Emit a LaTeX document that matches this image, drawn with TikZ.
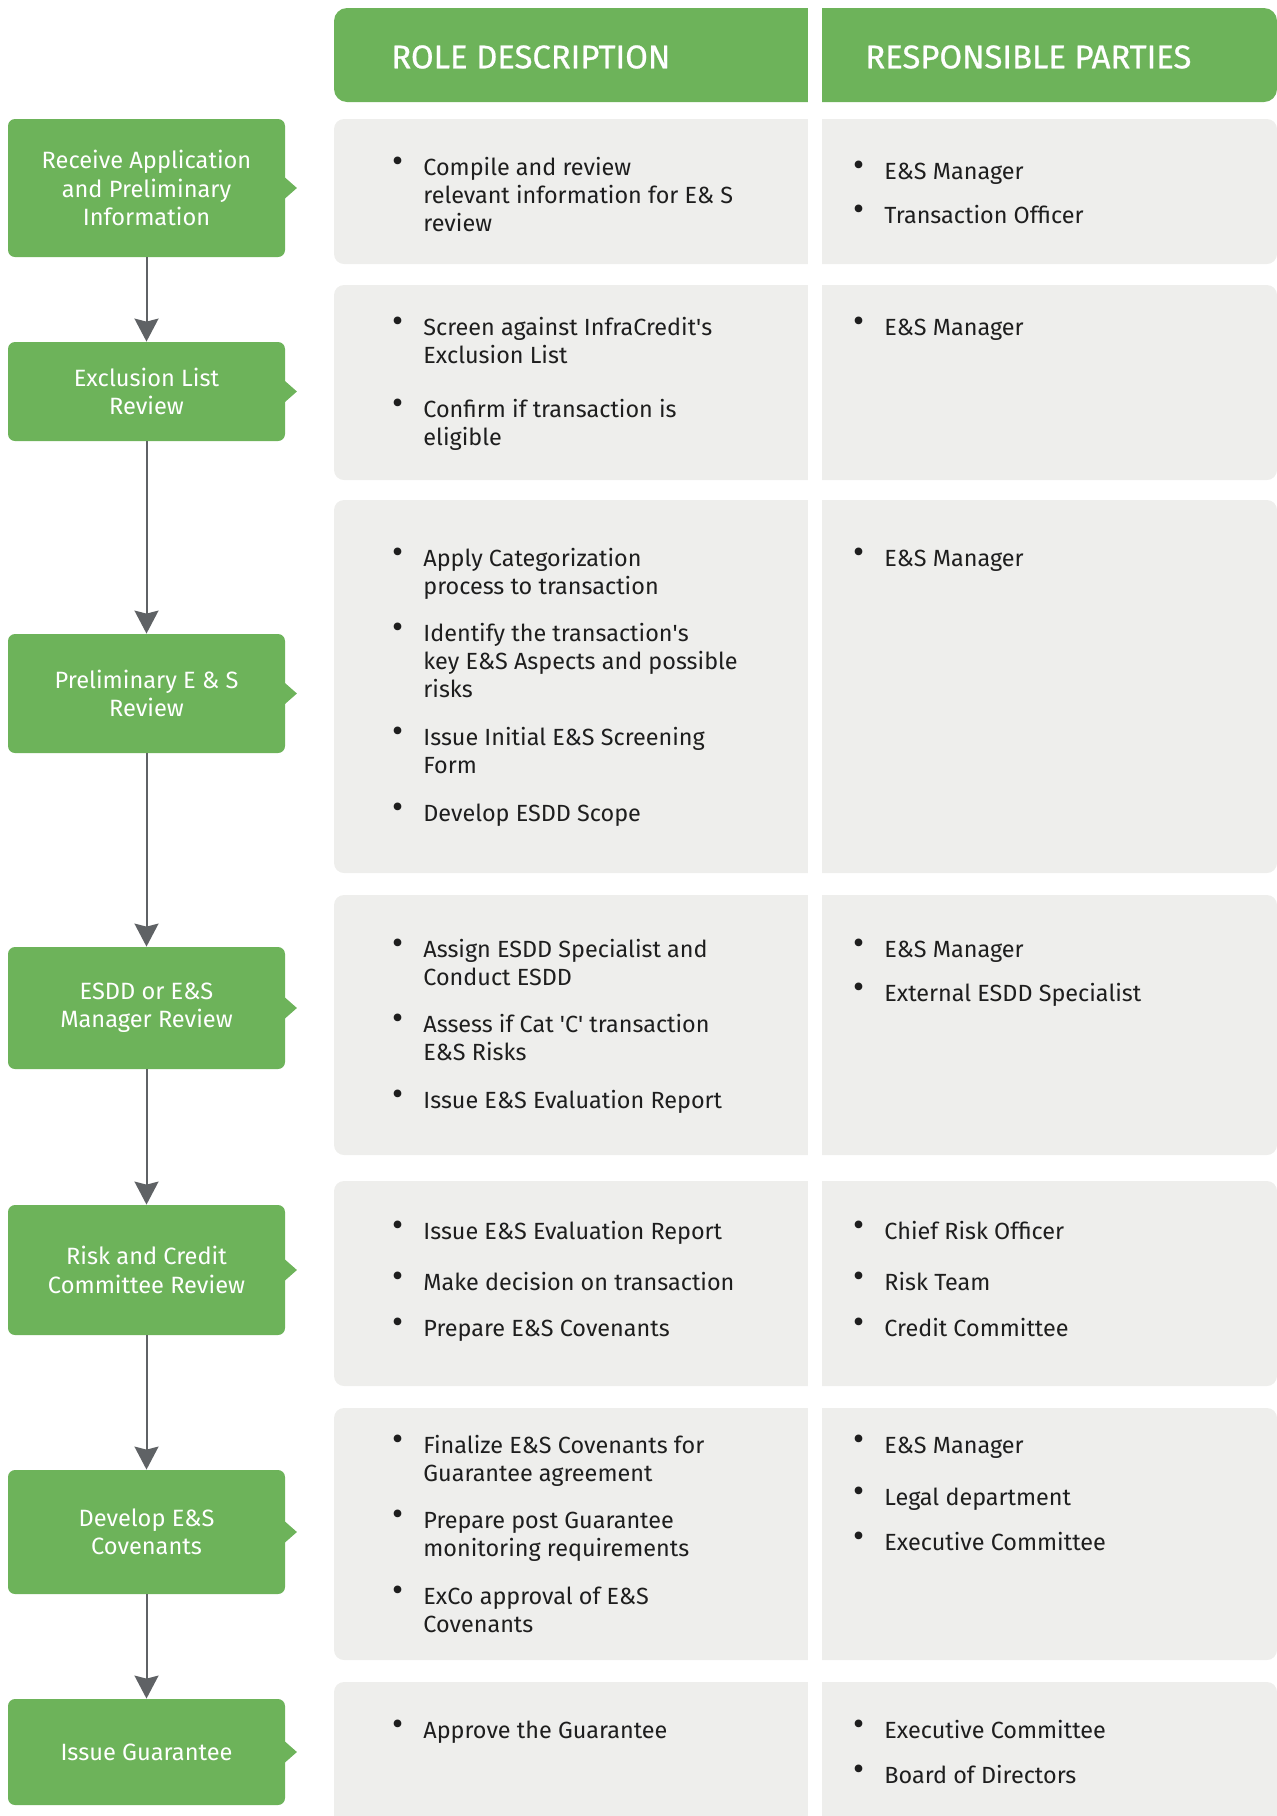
\documentclass[tikz,border=0pt]{standalone}
\usepackage{fontspec}
\setmainfont{Fira Sans}
\usetikzlibrary{arrows.meta}
\usepackage{xcolor}
\definecolor{color6db35a}{HTML}{6DB35A}
\definecolor{coloreeeeec}{HTML}{EEEEEC}
\definecolor{color5f6265}{HTML}{5F6265}
\definecolor{color1e1e1e}{HTML}{1E1E1E}

\newcommand{\dotitem}{\makebox[0pt][r]{\raisebox{1.4pt}{\fontsize{17}{17}\selectfont\textbullet}\hspace{10pt}}}

\tikzset{
  stagebox/.style={shape=rectangle, fill=color6db35a, rounded corners=3.5pt, minimum width=138.5pt, inner sep=0pt, align=center, text=white, font=\fontsize{11.8}{14.2}\selectfont},
  tablerow/.style={shape=rectangle, fill=coloreeeeec, rounded corners=5pt, minimum width=471.5pt, inner sep=0pt},
  headrow/.style={shape=rectangle, fill=color6db35a, rounded corners=6.5pt, minimum width=471.5pt, minimum height=47pt, inner sep=0pt},
  headtext/.style={anchor=west, inner sep=0pt, text=white, font=\fontsize{16.4}{19}\selectfont\addfontfeature{FakeBold=0.7}},
  itemtext/.style={anchor=base west, align=left, inner sep=0pt, text=color1e1e1e, font=\fontsize{11.7}{14.2}\selectfont},
  flow/.style={draw=color5f6265, line width=1pt, ->},
}

\begin{document}
\begin{tikzpicture}
    [x=0.5pt, y=-0.5pt,
     >={Stealth[length=11.5pt, width=12pt, inset=1.5pt]},  % arrow heads of the flow
    ]
\useasboundingbox (0,0) rectangle (1277,1816);
\clip (0,0) rectangle (1277,1816);

% table header and rows
\node[headrow] (head) at (805.5,55) {};
\node[tablerow, minimum height=72.5pt] (row1) at (805.5,191.5) {};
\node[tablerow, minimum height=97.5pt] (row2) at (805.5,382.5) {};
\node[tablerow, minimum height=186.5pt] (row3) at (805.5,686.5) {};
\node[tablerow, minimum height=130pt] (row4) at (805.5,1025) {};
\node[tablerow, minimum height=102.5pt] (row5) at (805.5,1283.5) {};
\node[tablerow, minimum height=126pt] (row6) at (805.5,1534) {};
\node[tablerow, minimum height=84pt] (row7) at (805.5,1766) {};
\fill[white] (808,0) rectangle (822,1816);

\node[headtext] (roletitle) at (391,57) {ROLE DESCRIPTION};
\node[headtext] (partytitle) at (865,57) {RESPONSIBLE PARTIES};

% process stages
\node[stagebox, minimum height=69pt] (receive) at (146.5,188) {Receive Application\\and Preliminary\\Information};
\node[stagebox, minimum height=49.5pt] (exclusion) at (146.5,391.5) {Exclusion List\\Review};
\node[stagebox, minimum height=59.5pt] (prelim) at (146.5,693.5) {Preliminary E \& S\\Review};
\node[stagebox, minimum height=61pt] (esdd) at (146.5,1008) {ESDD or E\&S\\Manager Review};
\node[stagebox, minimum height=65pt] (riskcredit) at (146.5,1270) {Risk and Credit\\Committee Review};
\node[stagebox, minimum height=62pt] (covenants) at (146.5,1532) {Develop E\&S\\Covenants};
\node[stagebox, minimum height=53pt] (guarantee) at (146.5,1752) {Issue Guarantee};

\foreach \s in {receive,exclusion,prelim,esdd,riskcredit,covenants,guarantee}
  \fill[color6db35a] ([xshift=-0.5pt,yshift=5.5pt]\s.east) -- ++(12.5,11) -- ++(-12.5,11) -- cycle;

\draw[flow] (receive) -- (exclusion);
\draw[flow] (exclusion) -- (prelim);
\draw[flow] (prelim) -- (esdd);
\draw[flow] (esdd) -- (riskcredit);
\draw[flow] (riskcredit) -- (covenants);
\draw[flow] (covenants) -- (guarantee);

% row 1 (multi-line items sit on their last baseline)
\node[itemtext] (r1a) at (423,231.8) {\dotitem Compile and review\\relevant information for E\& S\\review};
\node[itemtext] (r1p) at (884,179) {\dotitem E\&S Manager};
\node[itemtext] (r1q) at (884,223) {\dotitem Transaction Officer};

% row 2
\node[itemtext] (r2a) at (423,363.4) {\dotitem Screen against InfraCredit\textquotesingle s\\Exclusion List};
\node[itemtext] (r2b) at (423,445.4) {\dotitem Confirm if transaction is\\eligible};
\node[itemtext] (r2p) at (884,335) {\dotitem E\&S Manager};

% row 3
\node[itemtext] (r3a) at (423,594.4) {\dotitem Apply Categorization\\process to transaction};
\node[itemtext] (r3b) at (423,697.8) {\dotitem Identify the transaction\textquotesingle s\\key E\&S Aspects and possible\\risks};
\node[itemtext] (r3c) at (423,773.4) {\dotitem Issue Initial E\&S Screening\\Form};
\node[itemtext] (r3d) at (423,821) {\dotitem Develop ESDD Scope};
\node[itemtext] (r3p) at (884,566) {\dotitem E\&S Manager};

% row 4
\node[itemtext] (r4a) at (423,985.4) {\dotitem Assign ESDD Specialist and\\Conduct ESDD};
\node[itemtext] (r4b) at (423,1060.4) {\dotitem Assess if Cat \textquotesingle C\textquotesingle{} transaction\\E\&S Risks};
\node[itemtext] (r4c) at (423,1108) {\dotitem Issue E\&S Evaluation Report};
\node[itemtext] (r4p) at (884,957) {\dotitem E\&S Manager};
\node[itemtext] (r4q) at (884,1001) {\dotitem External ESDD Specialist};

% row 5
\node[itemtext] (r5a) at (423,1239) {\dotitem Issue E\&S Evaluation Report};
\node[itemtext] (r5b) at (423,1290) {\dotitem Make decision on transaction};
\node[itemtext] (r5c) at (423,1336) {\dotitem Prepare E\&S Covenants};
\node[itemtext] (r5p) at (884,1239) {\dotitem Chief Risk Officer};
\node[itemtext] (r5q) at (884,1290) {\dotitem Risk Team};
\node[itemtext] (r5r) at (884,1336) {\dotitem Credit Committee};

% row 6
\node[itemtext] (r6a) at (423,1481.4) {\dotitem Finalize E\&S Covenants for\\Guarantee agreement};
\node[itemtext] (r6b) at (423,1556.4) {\dotitem Prepare post Guarantee\\monitoring requirements};
\node[itemtext] (r6c) at (423,1632.4) {\dotitem ExCo approval of E\&S\\Covenants};
\node[itemtext] (r6p) at (884,1453) {\dotitem E\&S Manager};
\node[itemtext] (r6q) at (884,1505) {\dotitem Legal department};
\node[itemtext] (r6r) at (884,1550) {\dotitem Executive Committee};

% row 7
\node[itemtext] (r7a) at (423,1738) {\dotitem Approve the Guarantee};
\node[itemtext] (r7p) at (884,1738) {\dotitem Executive Committee};
\node[itemtext] (r7q) at (884,1783) {\dotitem Board of Directors};

\end{tikzpicture}
\end{document}
